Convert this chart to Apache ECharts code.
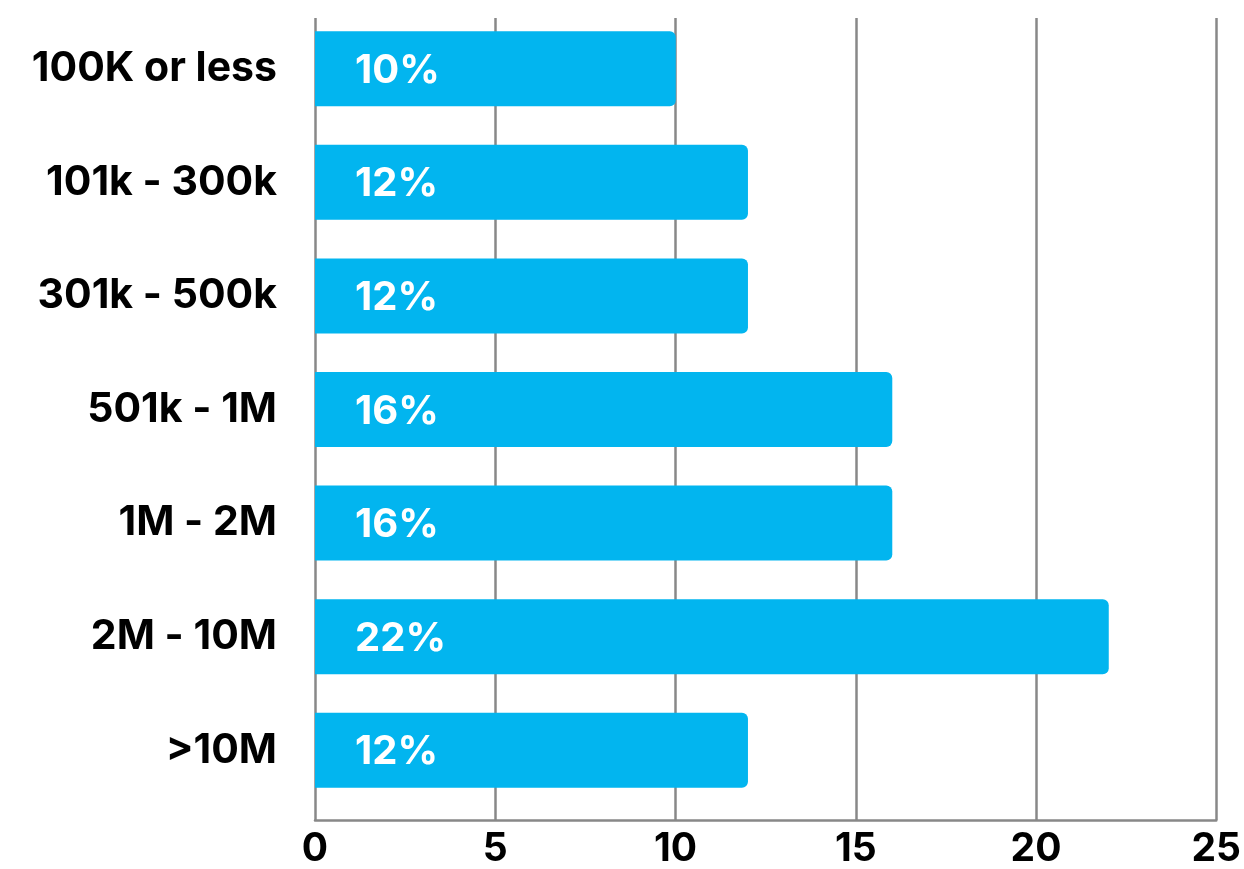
<!DOCTYPE html>
<html><head><meta charset="utf-8">
<script src="https://cdn.jsdelivr.net/npm/echarts@6/dist/echarts.min.js"></script>
<style>html,body{margin:0;padding:0;background:#fff}#c{width:1244px;height:869px}</style>
</head><body><div id="c"></div>
<script>
const categories = ['100K or less','101k - 300k','301k - 500k','501k - 1M','1M - 2M','2M - 10M','>10M'];
const values = [10,12,12,16,16,22,12];
const xTicks = [0,5,10,15,20,25];

const FONT = 'Inter, "Liberation Sans", Arial, sans-serif';
const chart = echarts.init(document.getElementById('c'), null, {renderer:'canvas'});
chart.setOption({
  animation:false,
  grid:[
    {left:315, right:27, top:12, bottom:62},
    {left:315, right:27, top:18, bottom:46}
  ],
  xAxis:[
    {gridIndex:0, type:'value', min:xTicks[0], max:xTicks[xTicks.length-1], interval:5, show:false},
    {gridIndex:1, type:'value', min:xTicks[0], max:xTicks[xTicks.length-1], interval:5,
     axisLine:{show:true, lineStyle:{color:'#888', width:2.5}},
     axisTick:{show:false},
     splitLine:{show:true, lineStyle:{color:'#888', width:2.5}},
     axisLabel:{color:'#000', fontFamily:FONT, fontWeight:'bold', fontSize:39, margin:10}}
  ],
  yAxis:[
    {gridIndex:0, type:'category', data:categories, inverse:true,
     axisLine:{show:false}, axisTick:{show:false}, splitLine:{show:false},
     axisLabel:{color:'#000', fontFamily:FONT, fontWeight:'bold', fontSize:41, margin:38, padding:[4,0,0,0]}},
    {gridIndex:1, type:'value', min:0, max:1, show:false}
  ],
  series:[{
    type:'bar', xAxisIndex:0, yAxisIndex:0, data:values, barWidth:75,
    itemStyle:{color:'#02b5ef', borderRadius:[0,6,6,0]},
    label:{show:true, position:'insideLeft', offset:[35,2], formatter:'{c}%', color:'#fff',
      fontFamily:FONT, fontWeight:'bold', fontSize:40},
    z:3
  }]
});
</script></body></html>
